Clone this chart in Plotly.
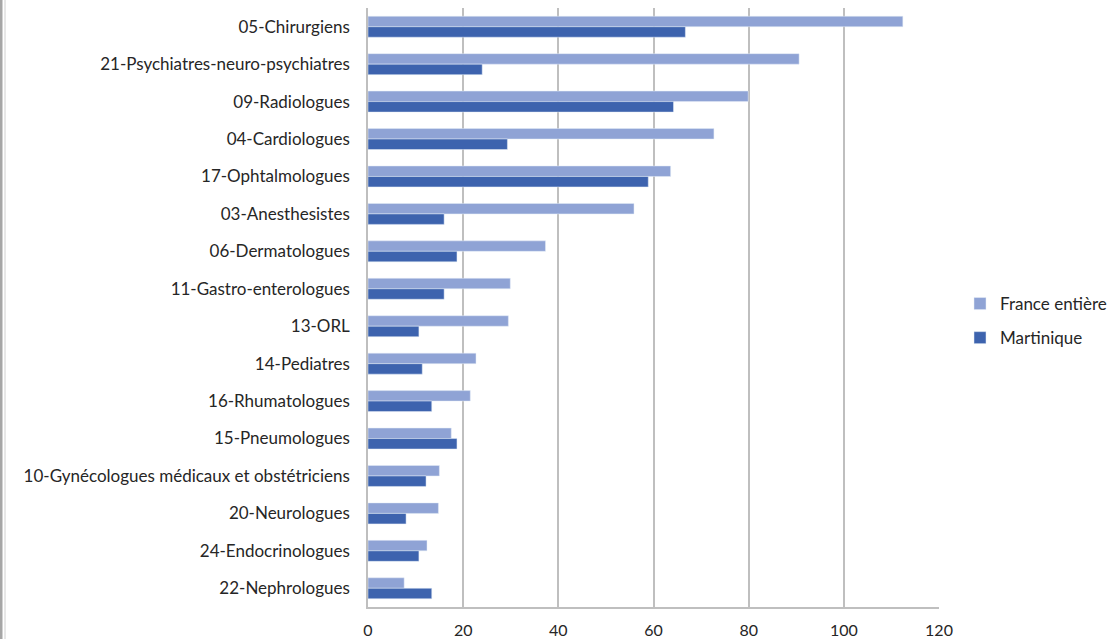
import plotly.graph_objects as go

categories = [
    "05-Chirurgiens",
    "21-Psychiatres-neuro-psychiatres",
    "09-Radiologues",
    "04-Cardiologues",
    "17-Ophtalmologues",
    "03-Anesthesistes",
    "06-Dermatologues",
    "11-Gastro-enterologues",
    "13-ORL",
    "14-Pediatres",
    "16-Rhumatologues",
    "15-Pneumologues",
    "10-Gynécologues médicaux et obstétriciens",
    "20-Neurologues",
    "24-Endocrinologues",
    "22-Nephrologues",
]
france_entiere = [112.4, 90.6, 79.9, 72.7, 63.6, 55.9, 37.3, 29.9, 29.5, 22.7, 21.5, 17.5, 15.0, 14.8, 12.4, 7.6]
martinique = [66.7, 24.0, 64.2, 29.3, 58.9, 16.0, 18.7, 16.0, 10.7, 11.4, 13.4, 18.7, 12.2, 8.0, 10.7, 13.4]
x_ticks = [0, 20, 40, 60, 80, 100, 120]

W, H = 1111, 639
L, R, T, B = 368, 172, 8, 32
pw, ph = W - L - R, H - T - B

fig = go.Figure()
fig.add_trace(go.Bar(y=categories, x=france_entiere, orientation="h", legendgroup="fr",
                     name="France entière", marker_color="#8fa3d5"))
fig.add_trace(go.Bar(y=categories, x=martinique, orientation="h", legendgroup="mq",
                     name="Martinique", marker_color="#3d63ae"))

font_family = "Lato, 'Open Sans', sans-serif"
fig.update_layout(
    width=W, height=H,
    margin=dict(l=L, r=R, t=T, b=B, pad=0, autoexpand=False),
    paper_bgcolor="white", plot_bgcolor="white",
    barmode="group", bargap=0.44, bargroupgap=0,
    font=dict(family=font_family, size=17, color="#262626"),
    showlegend=True,
    legend=dict(xref="container", yref="container",
                x=960 / W, y=1 - 321 / H, xanchor="left", yanchor="middle",
                font=dict(size=17, color="#262626"), tracegroupgap=9,
                itemwidth=30, bgcolor="rgba(0,0,0,0)"),
    xaxis=dict(range=[0, 120], tickvals=x_ticks, showgrid=True, gridcolor="#bfbfbf",
               gridwidth=1.5, zeroline=False, showline=True, linecolor="#bfbfbf", linewidth=1.5,
               ticks="", ticklabelstandoff=8, tickfont=dict(size=16, color="#262626"),
               automargin=False, fixedrange=True),
    yaxis=dict(autorange="reversed", showgrid=False, zeroline=False, showline=True,
               linecolor="#bfbfbf", linewidth=1.5, ticks="", ticklabelstandoff=13,
               tickfont=dict(size=17, color="#262626"), automargin=False, fixedrange=True),
    shapes=[
        dict(type="rect", xref="paper", yref="paper",
             x0=-L / pw, x1=-(L - 2.5) / pw, y0=-B / ph, y1=1 + T / ph,
             fillcolor="#a6a6a6", line_width=0, layer="above"),
        dict(type="line", xref="paper", yref="paper",
             x0=-(L - 5) / pw, x1=-(L - 5) / pw, y0=-B / ph, y1=1 + T / ph,
             line=dict(color="#d0d0d0", width=1), layer="above"),
    ],
)

fig.write_html("out.html", config={"displayModeBar": False},
               post_script="document.body.style.margin='0';")
